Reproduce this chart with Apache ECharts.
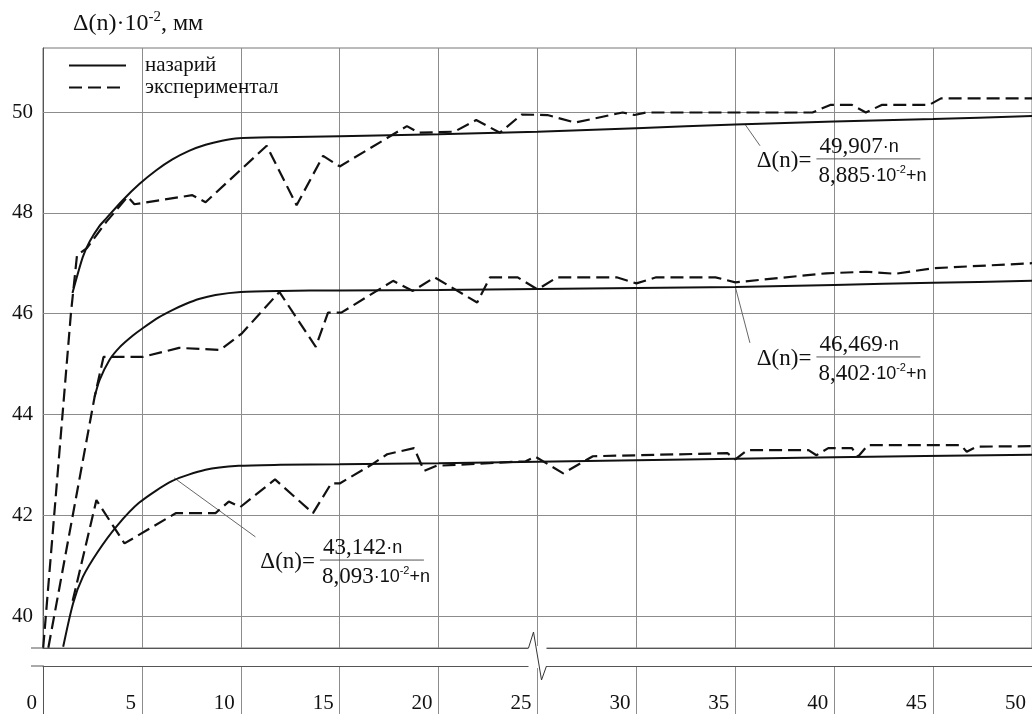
<!DOCTYPE html>
<html>
<head>
<meta charset="utf-8">
<script src="https://cdn.jsdelivr.net/npm/echarts@6/dist/echarts.min.js"></script>
<style>html,body{margin:0;padding:0;background:#fff}#c{width:1032px;height:714px}</style>
</head>
<body>
<div id="c"></div>
<script>
// ---------- data ----------
const yTickValues = [40, 42, 44, 46, 48, 50];
const xMin = 0, xMax = 50, xStep = 5;
const yMin = 39.365, yMax = 51.27;

const theoryTop = [[1.49,46.41],[2.01,47.12],[2.36,47.43],[2.86,47.74],[3.2,47.89],[4.03,48.25],[4.87,48.57],[5.71,48.84],[6.54,49.06],[7.38,49.23],[8.22,49.35],[9.05,49.43],[9.89,49.48],[12,49.5],[15,49.52],[20,49.56],[25,49.61],[30,49.68],[35,49.75],[40,49.81],[45,49.86],[50,49.92]];
const theoryMid = [[2.61,44.35],[2.86,44.68],[3.36,45.08],[3.87,45.33],[4.53,45.56],[5.04,45.71],[5.87,45.93],[6.54,46.07],[7.21,46.19],[7.88,46.29],[8.72,46.37],[10,46.43],[12,46.45],[15,46.46],[20,46.47],[25,46.49],[30,46.51],[35,46.53],[40,46.57],[45,46.61],[50,46.65]];
const theoryBot = [[1.02,39.39],[1.52,40.25],[2.02,40.78],[2.78,41.28],[3.7,41.77],[4.87,42.25],[6.54,42.68],[8.22,42.9],[9.89,42.98],[12,43.0],[15,43.01],[20,43.03],[30,43.09],[40,43.15],[50,43.2]];

const expTop = [[0.01,39.37],[1.41,46.0],[1.72,47.16],[2.22,47.3],[3.2,47.82],[4.28,48.32],[4.62,48.17],[7.55,48.35],[8.22,48.21],[11.31,49.33],[12.82,48.15],[14.16,49.13],[15.0,48.92],[18.4,49.72],[19.0,49.59],[20.8,49.61],[21.9,49.84],[23.1,49.59],[24.2,49.95],[25.5,49.94],[26.9,49.79],[29.3,49.99],[29.9,49.94],[30.5,49.99],[38.9,49.99],[39.8,50.14],[40.9,50.14],[41.6,49.99],[42.4,50.14],[44.8,50.14],[45.4,50.27],[50,50.27]];
const expMid = [[0.27,39.37],[2.61,44.35],[3.06,45.14],[5.04,45.14],[6.88,45.32],[8.97,45.28],[10.06,45.61],[11.95,46.43],[13.79,45.34],[14.41,46.02],[15.08,46.02],[17.7,46.65],[18.7,46.45],[19.8,46.72],[21.95,46.22],[22.6,46.72],[24.0,46.72],[25.0,46.48],[26.0,46.72],[29.0,46.72],[30.0,46.6],[31.0,46.72],[34.0,46.72],[35.0,46.62],[39.6,46.8],[41.6,46.83],[43.1,46.79],[45.0,46.9],[50,47.0]];
const expBot = [[1.5,40.3],[2.7,42.3],[4.12,41.44],[6.71,42.04],[8.72,42.04],[9.39,42.27],[9.97,42.16],[11.73,42.71],[13.65,42.04],[14.57,42.63],[15.0,42.63],[16.6,43.0],[17.4,43.21],[18.76,43.33],[19.27,42.88],[19.9,42.98],[24.4,43.07],[24.9,43.16],[26.3,42.83],[27.8,43.17],[34.6,43.23],[35.0,43.11],[35.6,43.29],[38.7,43.29],[39.1,43.19],[39.7,43.33],[40.9,43.33],[41.2,43.16],[41.7,43.39],[46.4,43.39],[46.7,43.26],[47.2,43.36],[50,43.37]];

// equation annotations (text), anchored in data coordinates
const equations = [
  {num: '49,907', den: '8,885', at: [39.1, 49.07], lead: [[35.5, 49.75], [36.25, 49.33]]},
  {num: '46,469', den: '8,402', at: [39.1, 45.14], lead: [[35.0, 46.53], [35.74, 45.42]]},
  {num: '43,142', den: '8,093', at: [14.0, 41.11], lead: [[6.63, 42.74], [10.74, 41.57]]}
];
const nameTheory = 'назарий';
const nameExp = 'экспериментал';

// ---------- chart ----------
const FONT = 'Liberation Serif';
const SANS = 'Liberation Sans';
const INK = '#111';
const GRIDC = '#8c8c8c';

function mkSeries(name, data, dashed, extra) {
  return Object.assign({
    name: name, type: 'line', xAxisIndex: 0, yAxisIndex: 0, data: data,
    symbol: 'none', showSymbol: false,
    smooth: dashed ? false : 0.25,
    z: 3, clip: true,
    lineStyle: {color: INK, width: dashed ? 2.2 : 2, type: dashed ? [13, 6] : 'solid'},
    itemStyle: {color: INK},
    emphasis: {disabled: true}
  }, extra || {});
}

const leadStyle = {color: '#666', width: 1, type: 'solid'};
const gridLineData = yTickValues.map(v => ({yAxis: v, lineStyle: {color: GRIDC, width: 1, type: 'solid'}}));
function leadItem(eq) {
  return [{coord: eq.lead[0], lineStyle: leadStyle}, {coord: eq.lead[1]}];
}

const option = {
  animation: false,
  backgroundColor: '#fff',
  title: {
    text: '{a|Δ(n)·10}{s|-2}{a|, мм}',
    left: 73, top: 10, padding: 0,
    textStyle: {
      fontWeight: 'normal',
      rich: {
        a: {fontFamily: FONT, fontSize: 24, fontWeight: 'normal', color: INK, lineHeight: 28},
        s: {fontFamily: FONT, fontSize: 15, fontWeight: 'normal', color: INK, verticalAlign: 'top', lineHeight: 15}
      }
    }
  },
  legend: {
    orient: 'vertical', left: 68, top: 55, padding: 0,
    itemWidth: 57, itemHeight: 12, itemGap: 1,
    selectedMode: false,
    itemStyle: {opacity: 0},
    data: [nameTheory, nameExp],
    textStyle: {fontFamily: FONT, fontSize: 21, color: INK, padding: [0, 0, 0, 14], lineHeight: 20}
  },
  grid: [
    {left: 43, top: 48, width: 996, height: 600, show: true, borderColor: '#777', borderWidth: 1, backgroundColor: 'transparent'},
    {left: 43, top: 666, width: 996, height: 60, show: false}
  ],
  xAxis: [
    {gridIndex: 0, type: 'value', min: xMin, max: xMax, interval: xStep,
     axisLine: {show: true, onZero: false, lineStyle: {color: '#555', width: 1}},
     axisTick: {show: false}, axisLabel: {show: false},
     splitLine: {show: true, lineStyle: {color: GRIDC, width: 1}}},
    {gridIndex: 1, type: 'value', min: xMin, max: xMax, interval: xStep, position: 'top',
     axisLine: {show: true, onZero: false, lineStyle: {color: '#555', width: 1}},
     axisTick: {show: false},
     axisLabel: {show: true, inside: true, margin: 27, align: 'right', padding: [0, 6, 0, 0],
                 fontFamily: FONT, fontSize: 21, color: INK},
     splitLine: {show: true, lineStyle: {color: GRIDC, width: 1}}}
  ],
  yAxis: [
    {gridIndex: 0, type: 'value', min: yMin, max: yMax,
     axisLine: {show: true, onZero: false, lineStyle: {color: '#555', width: 1}},
     axisTick: {show: false}, splitLine: {show: false},
     axisLabel: {customValues: yTickValues, margin: 10, fontFamily: FONT, fontSize: 21, color: INK}},
    {gridIndex: 1, type: 'value', min: 0, max: 1,
     axisLine: {show: true, onZero: false, lineStyle: {color: '#555', width: 1}},
     axisTick: {show: false}, splitLine: {show: false}, axisLabel: {show: false}}
  ],
  series: [
    mkSeries(nameTheory, theoryTop, false, {
      markLine: {silent: true, z: 1, symbol: ['none', 'none'], label: {show: false}, animation: false,
                 data: gridLineData.concat([leadItem(equations[0])])}
    }),
    mkSeries(nameTheory, theoryMid, false, {
      markLine: {silent: true, z: 1, symbol: ['none', 'none'], label: {show: false}, animation: false,
                 data: [leadItem(equations[1])]}
    }),
    mkSeries(nameTheory, theoryBot, false, {
      markLine: {silent: true, z: 1, symbol: ['none', 'none'], label: {show: false}, animation: false,
                 data: [leadItem(equations[2])]}
    }),
    mkSeries(nameExp, expTop, true),
    mkSeries(nameExp, expMid, true),
    mkSeries(nameExp, expBot, true)
  ]
};

const chart = echarts.init(document.getElementById('c'), null, {renderer: 'canvas'});
chart.setOption(option);

// ---------- annotations positioned through the chart's own scales ----------
const P = (pt) => chart.convertToPixel({gridIndex: 0}, pt);
const graphics = [];
const richNum = {
  d: {fontFamily: FONT, fontSize: 23, fill: INK, color: INK},
  p: {fontFamily: SANS, fontSize: 18, fill: INK, color: INK},
  s: {fontFamily: SANS, fontSize: 11, fill: INK, color: INK, verticalAlign: 'top', lineHeight: 12}
};
equations.forEach(eq => {
  const [bx, by] = P(eq.at);
  graphics.push({type: 'text', z: 20, x: bx - 5, y: by + 2,
    style: {text: 'Δ(n)=', fontFamily: FONT, fontSize: 23, fill: INK, align: 'right', verticalAlign: 'middle'}});
  graphics.push({type: 'line', z: 20, shape: {x1: bx, y1: by, x2: bx + 104, y2: by},
    style: {stroke: '#555', lineWidth: 1}});
  graphics.push({type: 'text', z: 20, x: bx + 3, y: by - 12,
    style: {text: '{d|' + eq.num + '}{p|·n}', rich: richNum, align: 'left', verticalAlign: 'middle'}});
  graphics.push({type: 'text', z: 20, x: bx + 2, y: by + 17,
    style: {text: '{d|' + eq.den + '}{p|·10}{s|-2}{p|+n}', rich: richNum, align: 'left', verticalAlign: 'middle'}});
});

// axis-break decoration
const x0 = chart.convertToPixel({xAxisIndex: 0}, xMin);
const x25 = chart.convertToPixel({xAxisIndex: 0}, 25);
const yB = chart.convertToPixel({yAxisIndex: 0}, yMin);
const yT = chart.convertToPixel({yAxisIndex: 1}, 1);
graphics.push({type: 'line', z: 20, shape: {x1: x0 - 12, y1: yB, x2: x0, y2: yB}, style: {stroke: '#555', lineWidth: 1}});
graphics.push({type: 'line', z: 20, shape: {x1: x0 - 12, y1: yT, x2: x0, y2: yT}, style: {stroke: '#555', lineWidth: 1}});
graphics.push({type: 'rect', z: 20, shape: {x: x25 - 9, y: yB - 2, width: 18, height: yT - yB + 4}, style: {fill: '#fff'}});
graphics.push({type: 'polyline', z: 21, shape: {points: [[x25 - 9, yB], [x25 - 4, yB - 16], [x25 + 4, yT + 14], [x25 + 9, yT]]},
  style: {stroke: '#333', lineWidth: 1, fill: 'none'}});

chart.setOption({graphic: graphics});
</script>
</body>
</html>
